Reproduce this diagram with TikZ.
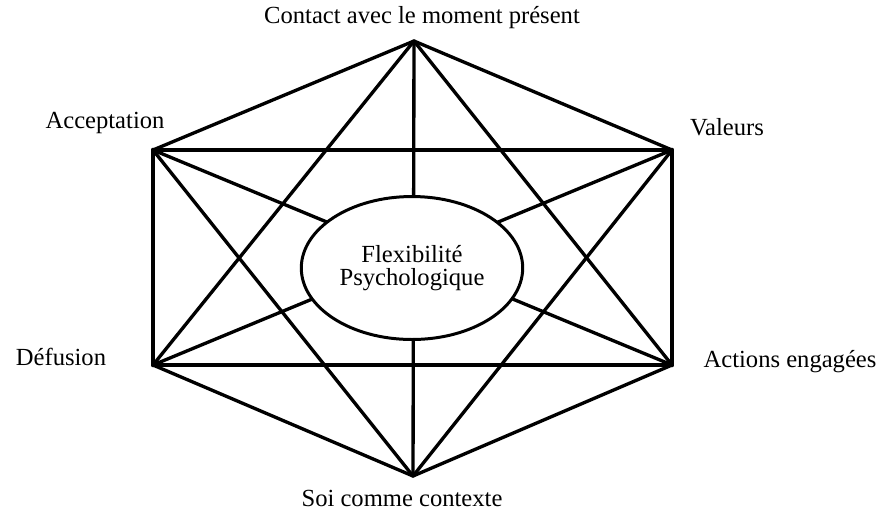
\documentclass[tikz,border=0pt]{standalone}
\usepackage{fontspec}
\setmainfont{Liberation Serif}
\usetikzlibrary{shapes.geometric,positioning}

\begin{document}
\begin{tikzpicture}[
    x=0.02cm, y=-0.02cm,
every link/.style={line width=1.9pt, line cap=round, line join=round},
side link/.style={every link, line width=2.6pt},
label text/.style={font=\fontsize{14}{16}\selectfont, inner sep=1pt},
core/.style={ellipse, draw, line width=1.7pt, fill=white,
    minimum width=4.28cm, minimum height=2.86cm, align=center,
    font=\fontsize{14}{13.5}\selectfont},
]
\useasboundingbox (0,0) rectangle (885,512);
% corners of the hexaflex
\coordinate (contact) at (414,41);
\coordinate (accept)  at (153,150);
\coordinate (valeurs) at (672,150);
\coordinate (defus)   at (153,365);
\coordinate (actions) at (672,365);
\coordinate (soi)     at (413,476);
% every corner linked to every other
\foreach \a/\b in {contact/accept,contact/valeurs,contact/defus,contact/actions,contact/soi,
    accept/valeurs,accept/actions,accept/soi,valeurs/defus,valeurs/soi,
    defus/actions,defus/soi,actions/soi}
  \draw[every link] (\a) -- (\b);
\draw[side link] (accept) -- (defus);
\draw[side link] (valeurs) -- (actions);
\node[core] (flex) at (412,268) {Flexibilité\\Psychologique};
% labels
\node[label text] (contactlbl) at (422,18) {Contact avec le moment présent};
\node[label text] (acceptlbl) at (105,123) {Acceptation};
\node[label text] (valeurslbl) at (727,127) {Valeurs};
\node[label text] (defuslbl) at (61,357) {Défusion};
\node[label text] (actionslbl) at (790,362) {Actions engagées};
\node[label text] (soilbl) at (402,498) {Soi comme contexte};
\end{tikzpicture}
\end{document}
